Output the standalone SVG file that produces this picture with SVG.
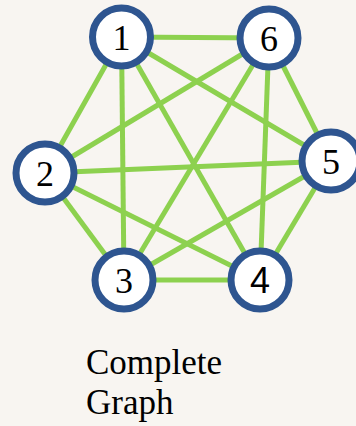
<svg xmlns="http://www.w3.org/2000/svg" width="356" height="426" viewBox="0 0 356 426">
  <style>
    .edge { stroke: #8dd14f; stroke-width: 5; stroke-linecap: butt; }
    .ring { fill: #ffffff; stroke: #2e5590; stroke-width: 7; }
    .num { font-family: "Liberation Serif", "Times New Roman", serif; font-size: 36px; fill: #000; text-anchor: middle; }
    .sans { font-family: "Liberation Sans", Arial, sans-serif; }
    .caption { font-family: "Liberation Serif", "Times New Roman", serif; font-size: 35px; fill: #000; }
  </style>
  <rect width="356" height="426" fill="#f8f5f1"/>
  <g id="connectors">
    <line class="edge" x1="121.5" y1="37" x2="269" y2="38"/>
    <line class="edge" x1="121.5" y1="37" x2="45" y2="173"/>
    <line class="edge" x1="121.5" y1="37" x2="124" y2="280"/>
    <line class="edge" x1="121.5" y1="37" x2="260" y2="280"/>
    <line class="edge" x1="121.5" y1="37" x2="331" y2="161"/>
    <line class="edge" x1="269" y1="38" x2="45" y2="173"/>
    <line class="edge" x1="269" y1="38" x2="124" y2="280"/>
    <line class="edge" x1="269" y1="38" x2="260" y2="280"/>
    <line class="edge" x1="269" y1="38" x2="331" y2="161"/>
    <line class="edge" x1="45" y1="173" x2="331" y2="161"/>
    <line class="edge" x1="45" y1="173" x2="124" y2="280"/>
    <line class="edge" x1="45" y1="173" x2="260" y2="280"/>
    <line class="edge" x1="331" y1="161" x2="124" y2="280"/>
    <line class="edge" x1="331" y1="161" x2="260" y2="280"/>
    <line class="edge" x1="124" y1="280" x2="260" y2="280"/>
  </g>
  <g id="node1">
    <circle class="ring" cx="121.5" cy="37" r="29"/>
    <text class="num" x="121.5" y="50">1</text>
  </g>
  <g id="node6">
    <circle class="ring" cx="269" cy="38" r="29"/>
    <text class="num" x="269" y="51">6</text>
  </g>
  <g id="node2">
    <circle class="ring" cx="45" cy="173" r="29"/>
    <text class="num" x="45" y="186">2</text>
  </g>
  <g id="node5">
    <circle class="ring" cx="331" cy="161" r="29"/>
    <text class="num" x="331" y="174">5</text>
  </g>
  <g id="node3">
    <circle class="ring" cx="124" cy="280" r="29"/>
    <text class="num" x="124" y="293">3</text>
  </g>
  <g id="node4">
    <circle class="ring" cx="260" cy="280" r="29"/>
    <text class="num sans" x="260" y="293">4</text>
  </g>
  <g id="caption">
    <text class="caption" x="86" y="374">Complete</text>
    <text class="caption" x="86" y="414">Graph</text>
  </g>
</svg>
